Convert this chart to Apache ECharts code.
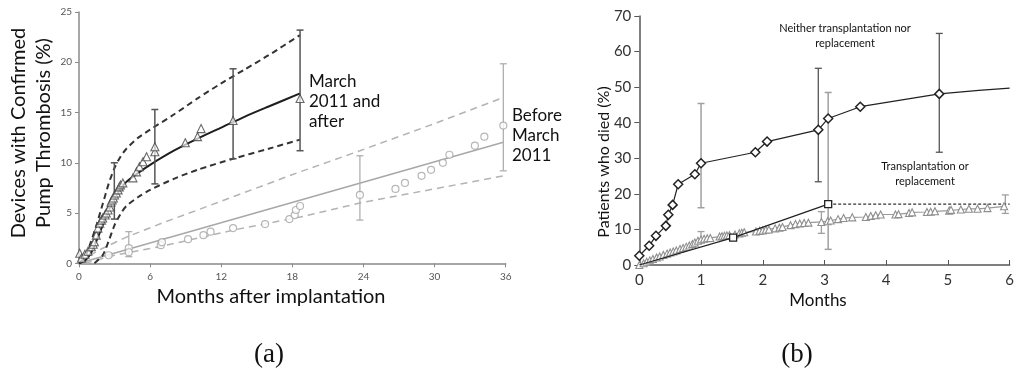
<!DOCTYPE html>
<html>
<head>
<meta charset="utf-8">
<script src="https://cdn.jsdelivr.net/npm/echarts@6/dist/echarts.min.js"></script>
<style>
  html, body { margin: 0; padding: 0; background: #fff; }
  #chart { width: 1017px; height: 374px; }
</style>
</head>
<body>
<div id="chart"></div>
<script>
// ---------- Panel (a): pump thrombosis by implant period ----------
const monthTicksA = [0, 6, 12, 18, 24, 30, 36];
const pctTicksA = [0, 5, 10, 15, 20, 25];

// March 2011 and after: observed points, fitted curve, confidence band, error bars
const recentObs = [[0.06,1.0],[0.2,0.5],[0.5,0.9],[0.76,1.2],[1.04,1.65],[1.2,1.9],[1.3,2.15],[1.46,2.8],
  [1.6,3.5],[1.75,4.0],[1.9,4.3],[2.0,4.5],[2.2,4.8],[2.3,5.0],[2.45,5.3],[2.6,5.6],[2.7,6.1],[2.8,6.3],
  [2.9,6.5],[3.0,6.8],[3.15,7.0],[3.3,7.3],[3.4,7.6],[3.5,7.8],[3.7,8.0],[4.55,8.5],[4.85,9.1],[5.1,9.6],
  [5.4,10.1],[5.7,10.6],[6.4,11.1],[6.4,11.6],[8.97,12.0],[10.0,12.6],[10.3,13.4],[13.0,14.2],[18.65,16.4]];
const recentFit = [[0,0],[0.5,0.25],[1,1.0],[1.5,2.3],[2,3.8],[2.5,5.3],[3,6.5],[3.5,7.4],[4,8.1],[5,9.0],
  [6,9.8],[8,11.2],[10,12.4],[12,13.5],[14,14.6],[16,15.6],[18.65,16.9]];
const recentUpper = [[0,0],[0.5,0.6],[1,2.1],[1.5,3.9],[2,5.9],[2.5,7.9],[3,9.5],[3.5,10.6],[4,11.4],[5,12.5],
  [6,13.3],[8,14.8],[10,16.4],[12,17.9],[14,19.3],[16,20.7],[18.65,22.7]];
const recentLower = [[1.3,0],[2,0.8],[2.5,2.2],[3,3.8],[3.5,4.9],[4,5.7],[5,6.6],[6,7.3],[8,8.4],[10,9.3],
  [13,10.4],[16,11.4],[18.65,12.3]];
const recentBars = [[2.98,4.4,10.0],[6.4,7.9,15.3],[13.0,10.4,19.35],[18.65,11.2,23.2]];

// Before March 2011
const earlyObs = [[2.5,0.8],[4.2,1.5],[4.2,1.1],[6.9,1.8],[7.0,2.1],[9.2,2.4],[10.5,2.8],[11.1,3.15],[13.0,3.5],
  [15.7,3.9],[17.75,4.4],[18.2,4.8],[18.3,5.3],[18.65,5.7],[23.7,6.8],[26.7,7.4],[27.5,8.0],[28.9,8.7],
  [29.7,9.3],[30.7,10.0],[31.25,10.8],[33.4,11.7],[34.2,12.6],[35.8,13.7]];
const earlyFit = [[0,0],[35.8,12.05]];
const earlyUpper = [[0,0.2],[2,1.5],[4,2.6],[7,4.0],[10,5.3],[13.4,6.8],[18.65,9.1],[23.7,11.2],[30,13.9],[35.8,16.5]];
const earlyLower = [[0.5,0],[3,0.8],[7,1.7],[13.4,3.4],[18.65,4.6],[23.7,6.0],[35.8,8.7]];
const earlyBars = [[4.2,0.66,3.15],[23.7,4.3,10.7],[35.8,9.2,19.85]];

// ---------- Panel (b): deaths by transplant / replacement status ----------
const neitherMonths = [0,0.16,0.27,0.43,0.47,0.54,0.63,0.90,1.0,1.88,2.07,2.9,3.06,3.58,4.86];
const neitherPct    = [2.6,5.4,8.2,11.0,14.1,16.9,22.7,25.5,28.6,31.7,34.7,38.0,41.2,44.5,48.1];
const neitherTail   = [[5.5,49.1],[6.0,49.7]];
const neitherBarsDark  = [[2.9,23.4,55.3],[4.86,31.7,65.1]];
const neitherBarsLight = [[1.0,16.1,45.4]];

const transplantPts  = [[0,0],[1.52,7.7],[3.06,17.1]];
const transplantFlat = [[3.06,17.1],[6.0,17.1]];
const transplantBars = [[3.06,4.4,48.5]];

const overallPts = [[0,0],[0.07,0.5],[0.12,0.9],[0.17,1.3],[0.22,1.7],[0.28,2.1],[0.33,2.4],[0.39,2.8],[0.45,3.2],
  [0.5,3.5],[0.55,3.8],[0.6,4.1],[0.66,4.5],[0.71,4.8],[0.76,5.1],[0.81,5.5],[0.86,5.9],[0.9,6.3],[0.95,6.8],
  [1.0,7.2],[1.05,7.4],[1.1,7.5],[1.15,7.6],[1.3,8.0],[1.34,8.1],[1.38,8.2],[1.42,8.3],[1.46,8.4],[1.55,8.6],
  [1.62,8.9],[1.66,9.1],[1.7,9.2],[1.89,9.4],[1.95,9.6],[2.0,9.7],[2.05,9.9],[2.1,10.0],[2.2,10.3],[2.27,10.5],
  [2.32,10.7],[2.45,11.2],[2.53,11.5],[2.6,11.7],[2.67,11.8],[2.74,11.9],[2.95,12.1],[3.05,12.3],[3.1,12.5],
  [3.22,12.9],[3.31,13.2],[3.45,13.4],[3.67,13.5],[3.75,13.8],[3.83,14.0],[3.91,14.2],[4.15,14.2],[4.2,14.3],
  [4.37,14.6],[4.42,14.8],[4.66,14.9],[4.72,15.0],[4.79,15.1],[5.02,15.3],[5.05,15.5],[5.21,15.6],[5.34,15.8],
  [5.48,15.8],[5.64,16.0],[5.91,16.5]];
const overallBars = [[1.0,6.2,9.4],[2.95,8.9,15.0],[5.93,14.5,19.7]];

const monthTicksB = [0, 1, 2, 3, 4, 5, 6];
const pctTicksB = [0, 10, 20, 30, 40, 50, 60, 70];

// ---------- helpers ----------
const SANS = 'Lato, "Open Sans", sans-serif';

// vertical error bar with caps, data = [x, low, high]
function errorBars(xIdx, yIdx, data, color, capHalf, width) {
  return {
    type: 'custom',
    xAxisIndex: xIdx,
    yAxisIndex: yIdx,
    data: data,
    encode: { x: 0, y: [1, 2] },
    z: 3,
    silent: true,
    renderItem: function (params, api) {
      const x = api.value(0);
      const lo = api.coord([x, api.value(1)]);
      const hi = api.coord([x, api.value(2)]);
      const st = { stroke: color, lineWidth: width };
      return {
        type: 'group',
        children: [
          { type: 'line', shape: { x1: lo[0], y1: lo[1], x2: hi[0], y2: hi[1] }, style: st },
          { type: 'line', shape: { x1: lo[0] - capHalf, y1: lo[1], x2: lo[0] + capHalf, y2: lo[1] }, style: st },
          { type: 'line', shape: { x1: hi[0] - capHalf, y1: hi[1], x2: hi[0] + capHalf, y2: hi[1] }, style: st }
        ]
      };
    }
  };
}

function curve(xIdx, yIdx, data, color, width, dash, smooth) {
  return {
    type: 'line', xAxisIndex: xIdx, yAxisIndex: yIdx, data: data,
    symbol: 'none', smooth: smooth, z: 2, silent: true,
    lineStyle: { color: color, width: width, type: dash || 'solid' }
  };
}

const neitherData = neitherMonths.map((m, i) => [m, neitherPct[i]]);
neitherTail.forEach(p => neitherData.push({ value: p, symbol: 'none' }));

const transplantData = transplantPts.map((p, i) => i === 0 ? { value: p, symbol: 'none' } : p);

const chart = echarts.init(document.getElementById('chart'), null, { renderer: 'canvas' });

chart.setOption({
  animation: false,
  backgroundColor: '#ffffff',
  grid: [
    { left: 79, top: 12, width: 426.7, height: 251.3 },
    { left: 639.3, top: 16, width: 373.4, height: 249 }
  ],
  xAxis: [
    {
      gridIndex: 0, type: 'value', min: monthTicksA[0], max: monthTicksA[monthTicksA.length - 1], interval: 6,
      axisLine: { lineStyle: { color: '#8a8a8a', width: 1.5 } },
      axisTick: { show: true, length: 4, lineStyle: { color: '#8a8a8a' } },
      axisLabel: { color: '#555', fontFamily: SANS, fontSize: 10, margin: 8 },
      splitLine: { show: false }
    },
    {
      gridIndex: 1, type: 'value', min: monthTicksB[0], max: monthTicksB[monthTicksB.length - 1], interval: 1,
      axisLine: { lineStyle: { color: '#555', width: 1.5 } },
      axisTick: { show: true, inside: true, length: 5, lineStyle: { color: '#555' } },
      axisLabel: { color: '#333', fontFamily: SANS, fontSize: 15, margin: 8 },
      splitLine: { show: false }
    }
  ],
  yAxis: [
    {
      gridIndex: 0, type: 'value', min: pctTicksA[0], max: pctTicksA[pctTicksA.length - 1], interval: 5,
      axisLine: { show: true, lineStyle: { color: '#8a8a8a', width: 1.5 } },
      axisTick: { show: true, length: 4, lineStyle: { color: '#8a8a8a' } },
      axisLabel: { color: '#555', fontFamily: SANS, fontSize: 10, margin: 7 },
      splitLine: { show: false }
    },
    {
      gridIndex: 1, type: 'value', min: pctTicksB[0], max: pctTicksB[pctTicksB.length - 1], interval: 10,
      axisLine: { show: true, lineStyle: { color: '#555', width: 1.5 } },
      axisTick: { show: true, length: 5, lineStyle: { color: '#555' } },
      axisLabel: { color: '#333', fontFamily: SANS, fontSize: 15, margin: 8 },
      splitLine: { show: false }
    }
  ],
  series: [
    // panel (a) — before March 2011 (gray)
    curve(0, 0, earlyUpper, '#b3b3b3', 1.5, [7, 5], false),
    curve(0, 0, earlyLower, '#b3b3b3', 1.5, [7, 5], false),
    curve(0, 0, earlyFit, '#a8a8a8', 1.5, 'solid', false),
    errorBars(0, 0, earlyBars, '#b0b0b0', 3.5, 1.3),
    {
      type: 'scatter', xAxisIndex: 0, yAxisIndex: 0, data: earlyObs, symbol: 'circle', symbolSize: 7, z: 4,
      itemStyle: { color: '#ffffff', borderColor: '#a5a5a5', borderWidth: 1.2 }
    },
    // panel (a) — March 2011 and after (black)
    curve(0, 0, recentUpper, '#333', 2, [6, 4], 0.25),
    curve(0, 0, recentLower, '#333', 2, [6, 4], 0.25),
    curve(0, 0, recentFit, '#1e1e1e', 2, 'solid', 0.25),
    errorBars(0, 0, recentBars, '#555', 3.5, 1.5),
    {
      type: 'scatter', xAxisIndex: 0, yAxisIndex: 0, data: recentObs, symbol: 'triangle', symbolSize: 8, z: 4,
      itemStyle: { color: 'rgba(255,255,255,0.85)', borderColor: '#444', borderWidth: 1.1 }
    },

    // panel (b)
    errorBars(1, 1, overallBars, '#a0a0a0', 3.5, 1.3),
    errorBars(1, 1, neitherBarsLight, '#a0a0a0', 3.5, 1.5),
    errorBars(1, 1, transplantBars, '#a0a0a0', 3.5, 1.5),
    errorBars(1, 1, neitherBarsDark, '#555', 3.5, 1.3),
    {
      type: 'line', xAxisIndex: 1, yAxisIndex: 1, data: overallPts, symbol: 'triangle', symbolSize: 7, z: 4,
      lineStyle: { color: '#999', width: 1.2 },
      itemStyle: { color: '#ffffff', borderColor: '#8f8f8f', borderWidth: 1.1 }
    },
    {
      type: 'line', xAxisIndex: 1, yAxisIndex: 1, data: transplantFlat, symbol: 'none', z: 3,
      lineStyle: { color: '#333', width: 1.2, type: [3, 2] }
    },
    {
      type: 'line', xAxisIndex: 1, yAxisIndex: 1, data: transplantData, symbol: 'rect', symbolSize: 7, z: 5,
      lineStyle: { color: '#222', width: 1.2 },
      itemStyle: { color: '#ffffff', borderColor: '#222', borderWidth: 1.3 }
    },
    {
      type: 'line', xAxisIndex: 1, yAxisIndex: 1, data: neitherData, symbol: 'diamond', symbolSize: 9, z: 5,
      smooth: false,
      lineStyle: { color: '#222', width: 1.2 },
      itemStyle: { color: '#ffffff', borderColor: '#222', borderWidth: 1.5 }
    }
  ],
  graphic: [
    // axis titles, panel (a)
    { type: 'text', x: 31, y: 133, rotation: Math.PI / 2, silent: true,
      style: { text: 'Devices with Confirmed\nPump Thrombosis (%)', font: '20px ' + SANS, fill: '#111',
               align: 'center', verticalAlign: 'middle', lineHeight: 25 } },
    { type: 'text', x: 271, y: 297, silent: true,
      style: { text: 'Months after implantation', font: '20px ' + SANS, fill: '#111', align: 'center', verticalAlign: 'middle' } },
    { type: 'text', x: 309, y: 72, silent: true,
      style: { text: 'March\n2011 and\nafter', font: '17px ' + SANS, fill: '#111', lineHeight: 20 } },
    { type: 'text', x: 512, y: 106, silent: true,
      style: { text: 'Before\nMarch\n2011', font: '17px ' + SANS, fill: '#111', lineHeight: 20 } },
    { type: 'text', x: 269, y: 355, silent: true,
      style: { text: '(a)', font: '27px "Liberation Serif", "DejaVu Serif", serif', fill: '#111', align: 'center', verticalAlign: 'middle' } },

    // axis titles, panel (b)
    { type: 'text', x: 604, y: 162, rotation: Math.PI / 2, silent: true,
      style: { text: 'Patients who died (%)', font: '16px ' + SANS, fill: '#111', align: 'center', verticalAlign: 'middle' } },
    { type: 'text', x: 818, y: 301, silent: true,
      style: { text: 'Months', font: '17px ' + SANS, fill: '#111', align: 'center', verticalAlign: 'middle' } },
    { type: 'text', x: 845, y: 21, silent: true,
      style: { text: 'Neither transplantation nor\nreplacement', font: '11px ' + SANS, fill: '#111', align: 'center', lineHeight: 15 } },
    { type: 'text', x: 925, y: 159, silent: true,
      style: { text: 'Transplantation or\nreplacement', font: '11px ' + SANS, fill: '#111', align: 'center', lineHeight: 15 } },
    { type: 'text', x: 797, y: 355, silent: true,
      style: { text: '(b)', font: '27px "Liberation Serif", "DejaVu Serif", serif', fill: '#111', align: 'center', verticalAlign: 'middle' } }
  ]
});
</script>
</body>
</html>
